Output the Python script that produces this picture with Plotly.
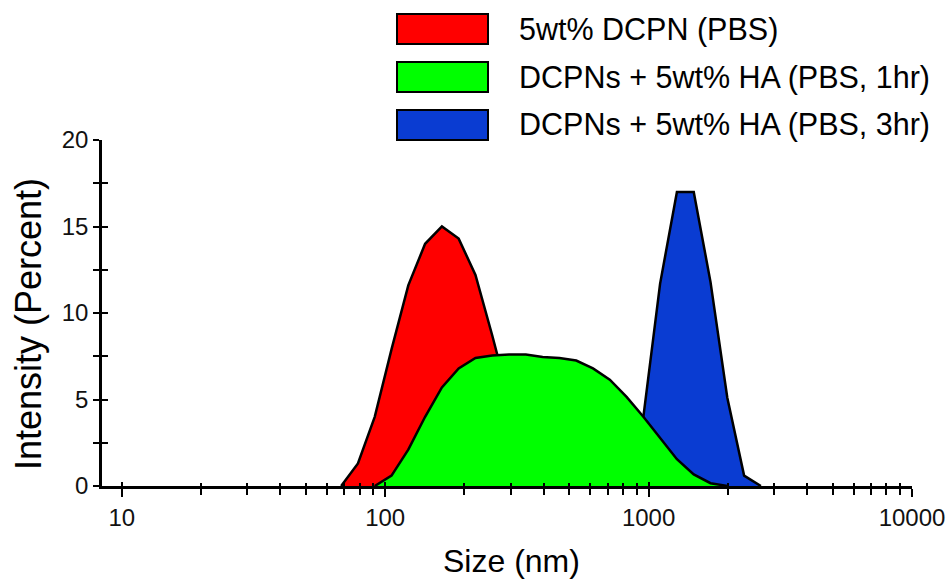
import plotly.graph_objects as go

# ---- data (Zetasizer size bins, nm) ----
size_nm = [68.06, 78.82, 91.28, 105.7, 122.4, 141.8, 164.2, 190.1, 220.2, 255.0,
           295.3, 342.0, 396.1, 458.7, 531.2, 615.1, 712.4, 825.0, 955.4, 1106,
           1281, 1484, 1718, 1990, 2305, 2669]
dcpn_pbs = [0, 1.3, 4.0, 7.9, 11.6, 14.0, 15.0, 14.3, 12.2, 8.7,
            5.0, 2.0, 0.4, 0, 0, 0, 0, 0, 0, 0,
            0, 0, 0, 0, 0, 0]
ha_1hr = [0, 0, 0, 0.6, 2.1, 4.0, 5.7, 6.8, 7.4, 7.55,
          7.6, 7.6, 7.45, 7.4, 7.25, 6.8, 6.15, 5.15, 4.0, 2.75,
          1.55, 0.67, 0.16, 0, 0, 0]
ha_3hr = [0, 0, 0, 0, 0, 0, 0, 0, 0, 0,
          0, 0, 0, 0, 0, 0, 0, 0, 4.0, 11.7,
          17.0, 17.0, 11.8, 5.1, 0.6, 0]

series_names = ["5wt% DCPN (PBS)", "DCPNs + 5wt% HA (PBS, 1hr)", "DCPNs + 5wt% HA (PBS, 3hr)"]
series_colors = ["#FF0000", "#00FF00", "#0A3CD2"]

x_tickvals = [10, 100, 1000, 10000]
x_ticktext = ["10", "100", "1000", "10000"]
x_minor = [m * 10 ** k for k in range(1, 4) for m in range(2, 10)]
y_tickvals = [0, 5, 10, 15, 20]
x_title = "Size (nm)"
y_title = "Intensity (Percent)"

FONT = "Arial, Liberation Sans, Helvetica, sans-serif"

W, H = 948, 580
ML, MR, MT, MB = 102, 36, 140, 94
PW, PH = W - ML - MR, H - MT - MB


def px_x(px):
    return (px - ML) / PW


def px_y(py):
    return (H - MB - py) / PH


def trimmed(vals):
    idx = [i for i, v in enumerate(vals) if v > 0]
    lo = max(idx[0] - 1, 0)
    hi = min(idx[-1] + 1, len(vals) - 1)
    return size_nm[lo:hi + 1], vals[lo:hi + 1]


fig = go.Figure()
# drawing order: red, blue, then green on top
for i in [0, 2, 1]:
    vals = [dcpn_pbs, ha_1hr, ha_3hr][i]
    xs, ys = trimmed(vals)
    fig.add_trace(go.Scatter(
        x=xs, y=ys, mode="lines", fill="tozeroy",
        fillcolor=series_colors[i],
        line=dict(color="black", width=2.5),
        name=series_names[i], showlegend=False,
    ))

# dummy trace for overlay axes (inside tick halves)
fig.add_trace(go.Scatter(x=[10], y=[0], xaxis="x2", yaxis="y2",
                         mode="markers", marker=dict(opacity=0),
                         showlegend=False, hoverinfo="skip"))

xr = [0.925, 4.0]
yr = [0, 20]
tickfont = dict(family=FONT, size=24, color="#111111")

fig.update_layout(
    width=W, height=H, autosize=False,
    margin=dict(l=ML, r=MR, t=MT, b=MB, pad=0),
    paper_bgcolor="white", plot_bgcolor="white",
    font=dict(family=FONT, color="black"),
    xaxis=dict(
        type="log", range=xr, showgrid=False, zeroline=False, automargin=False,
        showline=True, linecolor="black", linewidth=2.5,
        tickmode="array", tickvals=x_tickvals, ticktext=x_ticktext,
        ticks="outside", ticklen=8, tickwidth=2, tickcolor="black",
        tickfont=tickfont,
        minor=dict(tickmode="array", tickvals=x_minor, ticks="outside",
                   ticklen=6, tickwidth=2, tickcolor="black", showgrid=False),
    ),
    yaxis=dict(
        range=yr, showgrid=False, zeroline=False, automargin=False,
        showline=True, linecolor="black", linewidth=2.5,
        tickmode="array", tickvals=y_tickvals,
        ticks="outside", ticklen=6, tickwidth=2, tickcolor="black",
        tickfont=tickfont,
        minor=dict(dtick=2.5, ticks="outside", ticklen=6, tickwidth=2,
                   tickcolor="black", showgrid=False),
    ),
    xaxis2=dict(
        type="log", range=xr, overlaying="x", anchor="y2", showgrid=False,
        zeroline=False, showline=False, showticklabels=False, automargin=False,
        tickmode="array", tickvals=x_tickvals,
        ticks="inside", ticklen=4, tickwidth=2, tickcolor="black",
        minor=dict(tickmode="array", tickvals=x_minor, ticks="inside",
                   ticklen=3, tickwidth=2, tickcolor="black", showgrid=False),
    ),
    yaxis2=dict(
        range=yr, overlaying="y", anchor="x2", showgrid=False, automargin=False,
        zeroline=False, showline=False, showticklabels=False,
        tickmode="array", tickvals=y_tickvals,
        ticks="inside", ticklen=6, tickwidth=2, tickcolor="black",
        minor=dict(dtick=2.5, ticks="inside", ticklen=6, tickwidth=2,
                   tickcolor="black", showgrid=False),
    ),
    showlegend=False,
)

# custom legend (large swatches) and axis titles
row_centers = [29, 77, 125]
shapes = []
annotations = []
for i, cy in enumerate(row_centers):
    shapes.append(dict(type="rect", xref="paper", yref="paper",
                       x0=px_x(397), x1=px_x(488),
                       y0=px_y(cy + 15), y1=px_y(cy - 15),
                       fillcolor=series_colors[i],
                       line=dict(color="black", width=2)))
    annotations.append(dict(xref="paper", yref="paper", x=px_x(517), y=px_y(cy),
                            xanchor="left", yanchor="middle", showarrow=False,
                            text=series_names[i],
                            font=dict(family=FONT, size=30.5, color="black")))

annotations.append(dict(xref="paper", yref="paper", x=px_x(511), y=px_y(561),
                        xanchor="center", yanchor="middle", showarrow=False,
                        text=x_title, font=dict(family=FONT, size=32, color="black")))
annotations.append(dict(xref="paper", yref="paper", x=px_x(28), y=px_y(324),
                        xanchor="center", yanchor="middle", showarrow=False,
                        textangle=-90,
                        text=y_title, font=dict(family=FONT, size=36, color="black")))
fig.update_layout(shapes=shapes, annotations=annotations)

fig.write_html("out.html", config={"displayModeBar": False},
               post_script="document.body.style.margin='0';document.body.style.overflow='hidden';")
